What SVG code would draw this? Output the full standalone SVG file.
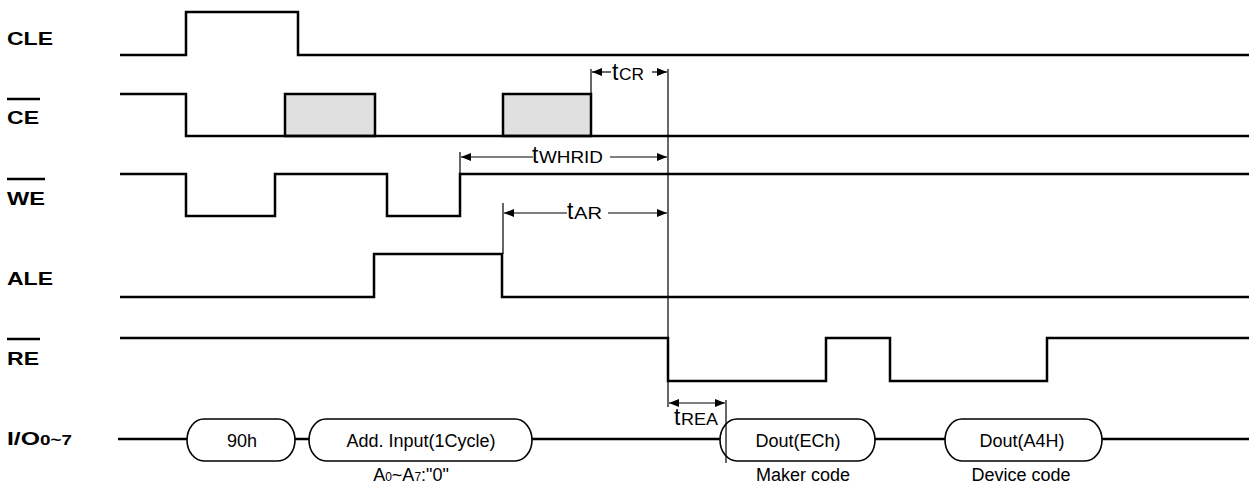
<svg xmlns="http://www.w3.org/2000/svg" width="1249" height="488" viewBox="0 0 1249 488">
<style>
.sig{fill:none;stroke:#000;stroke-width:2.5;stroke-linejoin:miter}
.thin{fill:none;stroke:#000;stroke-width:1.2}
.pill{fill:#fff;stroke:#000;stroke-width:1.6}
.box{fill:#e0e0e0;stroke:#000;stroke-width:2.5}
.lbl{font-family:"Liberation Sans",Arial,sans-serif;font-weight:bold;font-size:19px;fill:#000}
.lbls{font-family:"Liberation Sans",Arial,sans-serif;font-weight:bold;font-size:15px;fill:#000}
.bus{font-family:"Liberation Sans",Arial,sans-serif;font-size:18px;fill:#000;text-anchor:middle}
.tt{font-family:"Liberation Sans",Arial,sans-serif;font-size:23px;fill:#000}
.ts{font-family:"Liberation Sans",Arial,sans-serif;font-size:17px;fill:#000}
.ov{stroke:#000;stroke-width:2.5}
</style>
<defs>
<marker id="ah" viewBox="0 0 10 8" refX="10" refY="4" markerWidth="10" markerHeight="8" markerUnits="userSpaceOnUse" orient="auto-start-reverse">
<path d="M0,0 L10,4 L0,8 Z" fill="#000"/>
</marker>
</defs>

<g id="CLE">
<text class="lbl" x="7" y="45" textLength="46" lengthAdjust="spacingAndGlyphs">CLE</text>
<polyline class="sig" points="120,55 186,55 186,12 298,12 298,55 1249,55"/>
</g>

<g id="CE">
<line class="ov" x1="7" y1="99" x2="40" y2="99"/>
<text class="lbl" x="7" y="124" textLength="32" lengthAdjust="spacingAndGlyphs">CE</text>
<rect class="box" x="285" y="94" width="90" height="42"/>
<rect class="box" x="503" y="94" width="88" height="42"/>
<polyline class="sig" points="120,94 186,94 186,136 1249,136"/>
</g>

<g id="WE">
<line class="ov" x1="7" y1="179" x2="45" y2="179"/>
<text class="lbl" x="7" y="205" textLength="38" lengthAdjust="spacingAndGlyphs">WE</text>
<polyline class="sig" points="120,174 186,174 186,216 275,216 275,174 387,174 387,216 460,216 460,174 1249,174"/>
</g>

<g id="ALE">
<text class="lbl" x="7" y="285" textLength="46" lengthAdjust="spacingAndGlyphs">ALE</text>
<polyline class="sig" points="120,297 374,297 374,254 502,254 502,297 1249,297"/>
</g>

<g id="RE">
<line class="ov" x1="7" y1="339" x2="40" y2="339"/>
<text class="lbl" x="7" y="365" textLength="32" lengthAdjust="spacingAndGlyphs">RE</text>
<polyline class="sig" points="120,338 668,338 668,381 826,381 826,338 890,338 890,381 1047,381 1047,338 1249,338"/>
</g>

<g id="IO">
<text class="lbl" x="7" y="445" textLength="33" lengthAdjust="spacingAndGlyphs">I/O</text>
<text class="lbls" x="40" y="445" textLength="32" lengthAdjust="spacingAndGlyphs">0~7</text>
<g id="bus-lines">
<line class="sig" x1="118" y1="439" x2="188" y2="439"/>
<line class="sig" x1="294" y1="439" x2="310" y2="439"/>
<line class="sig" x1="531" y1="439" x2="721" y2="439"/>
<line class="sig" x1="874" y1="439" x2="946" y2="439"/>
<line class="sig" x1="1101" y1="439" x2="1249" y2="439"/>
</g>
<g id="bus-90h">
<rect class="pill" x="187" y="419" width="108" height="42" rx="17" ry="21"/>
<text class="bus" x="242" y="447">90h</text>
</g>
<g id="bus-addr">
<rect class="pill" x="309" y="419" width="223" height="42" rx="17" ry="21"/>
<text class="bus" x="421" y="447">Add. Input(1Cycle)</text>
<text class="bus" x="411" y="481">A<tspan font-size="12">0</tspan>~A<tspan font-size="12">7</tspan>:"0"</text>
</g>
<g id="bus-maker">
<rect class="pill" x="720" y="419" width="155" height="42" rx="17" ry="21"/>
<text class="bus" x="798" y="447">Dout(ECh)</text>
<text class="bus" x="803" y="481">Maker code</text>
</g>
<g id="bus-device">
<rect class="pill" x="945" y="419" width="157" height="42" rx="17" ry="21"/>
<text class="bus" x="1022" y="447">Dout(A4H)</text>
<text class="bus" x="1021" y="481">Device code</text>
</g>
</g>

<g id="connectors">
<line class="thin" x1="668" y1="69" x2="668" y2="407"/>
<line class="thin" x1="591" y1="69" x2="591" y2="94"/>
<line class="thin" x1="460" y1="152" x2="460" y2="174"/>
<line class="thin" x1="503" y1="203" x2="503" y2="254"/>
<line class="thin" x1="726" y1="400" x2="726" y2="463"/>

<line class="thin" x1="611" y1="72" x2="592" y2="72" marker-end="url(#ah)"/>
<line class="thin" x1="652" y1="72" x2="667" y2="72" marker-end="url(#ah)"/>
<text class="tt" x="612" y="80">t</text>
<text class="ts" x="619" y="80" textLength="25" lengthAdjust="spacingAndGlyphs">CR</text>

<line class="thin" x1="533" y1="157" x2="461" y2="157" marker-end="url(#ah)"/>
<line class="thin" x1="610" y1="157" x2="667" y2="157" marker-end="url(#ah)"/>
<text class="tt" x="532" y="163">t</text>
<text class="ts" x="539" y="163" textLength="64" lengthAdjust="spacingAndGlyphs">WHRID</text>

<line class="thin" x1="567" y1="213" x2="504" y2="213" marker-end="url(#ah)"/>
<line class="thin" x1="608" y1="213" x2="667" y2="213" marker-end="url(#ah)"/>
<text class="tt" x="567" y="219">t</text>
<text class="ts" x="574" y="219" textLength="28" lengthAdjust="spacingAndGlyphs">AR</text>

<line class="thin" x1="669" y1="403" x2="725" y2="403" marker-start="url(#ah)" marker-end="url(#ah)"/>
<text class="tt" x="674" y="425">t</text>
<text class="ts" x="681" y="425" textLength="37" lengthAdjust="spacingAndGlyphs">REA</text>
</g>
</svg>
